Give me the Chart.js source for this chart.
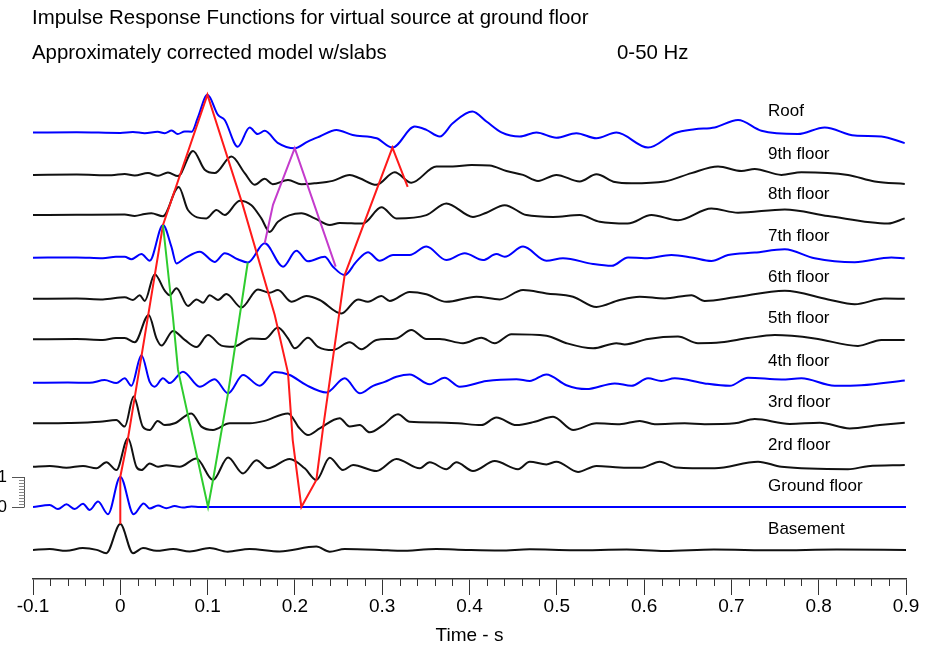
<!DOCTYPE html>
<html>
<head>
<meta charset="utf-8">
<script src="https://cdn.jsdelivr.net/npm/chart.js@4.4.1/dist/chart.umd.min.js"></script>
<style>
  html, body { margin: 0; padding: 0; background: #ffffff; }
  canvas { display: block; }
</style>
</head>
<body>
<canvas id="irf" width="935" height="649"></canvas>
<script>
// ---- text ----
const titleLine1 = 'Impulse Response Functions for virtual source at ground floor';
const titleLine2 = 'Approximately corrected model w/slabs';
const bandText = '0-50 Hz';
const axisTitle = 'Time - s';
const floorNames = ['Roof', '9th floor', '8th floor', '7th floor', '6th floor', '5th floor',
                    '4th floor', '3rd floor', '2rd floor', 'Ground floor', 'Basement'];
const xTickValues = [-0.1, 0, 0.1, 0.2, 0.3, 0.4, 0.5, 0.6, 0.7, 0.8, 0.9];
const scaleBarLabels = ['1', '0'];

// vertical offset of each trace (amplitude units, ground floor = 0)
const traceOffset = [12.48, 11.07, 9.73, 8.31, 6.94, 5.59, 4.14, 2.79, 1.34, 0, -1.43];

// ---- impulse responses: [time s, amplitude] ----
const roofTrace = [[-0.1,0],[-0.05,0.01],[0,-0.01],[0.0145,0.02],[0.028,-0.02],[0.0428,0.03],[0.0509,-0.02],[0.0589,0.07],[0.0657,-0.05],[0.0738,0.04],[0.0818,0.03],[0.0887,0.49],[0.0998,1.26],[0.1119,0.59],[0.1196,0.42],[0.1345,-0.47],[0.1482,0.17],[0.1573,-0.05],[0.1654,0.06],[0.1803,-0.34],[0.1998,-0.52],[0.2147,-0.30],[0.2284,-0.13],[0.2475,0.09],[0.2662,-0.08],[0.2937,-0.19],[0.3117,-0.5],[0.3372,0.2],[0.3506,0.09],[0.3659,-0.13],[0.3808,0.31],[0.4033,0.7],[0.4194,0.37],[0.4366,0.01],[0.4575,-0.13],[0.4766,0],[0.4995,-0.17],[0.5224,-0.02],[0.5454,-0.19],[0.5683,0],[0.6045,-0.5],[0.635,-0.02],[0.658,0.11],[0.6809,0.17],[0.7076,0.42],[0.7344,0.06],[0.776,-0.05],[0.8069,0.17],[0.8413,-0.1],[0.8718,-0.13],[0.8985,-0.35]];

const floor9Trace = [[-0.1,0],[-0.05,0.01],[-0.01,-0.01],[0.005,0.03],[0.0165,-0.02],[0.0317,0.06],[0.0432,-0.03],[0.0546,0.08],[0.0661,-0.04],[0.0833,0.8],[0.0967,0.17],[0.1081,0.06],[0.1273,0.61],[0.1425,0.06],[0.154,-0.33],[0.1654,-0.13],[0.1746,-0.31],[0.1921,-0.17],[0.2074,-0.31],[0.2227,-0.28],[0.2433,-0.2],[0.2628,0],[0.2742,-0.11],[0.2934,-0.33],[0.3143,0.09],[0.3334,-0.26],[0.3621,0.28],[0.3808,0.28],[0.4022,0.33],[0.4231,0.31],[0.4423,0.13],[0.4613,0],[0.4785,-0.2],[0.4995,0],[0.5262,-0.22],[0.5454,0.02],[0.5666,-0.24],[0.5855,-0.28],[0.6236,-0.22],[0.6542,0.06],[0.6847,0.28],[0.7115,0.13],[0.7267,0.2],[0.7573,0],[0.7802,0.09],[0.8336,0],[0.8642,-0.22],[0.8986,-0.3]];

const floor8Trace = [[-0.1,0],[-0.05,0.01],[0.005,0.02],[0.0165,-0.03],[0.028,0.04],[0.0356,0.06],[0.0489,-0.04],[0.0669,0.94],[0.0775,0.17],[0.0986,-0.11],[0.1101,0.17],[0.1196,0],[0.1368,0.48],[0.1502,0.33],[0.1616,-0.11],[0.1711,-0.56],[0.1806,-0.22],[0.2074,0.06],[0.2227,-0.11],[0.2399,-0.33],[0.2513,-0.26],[0.278,-0.28],[0.2991,0.26],[0.3163,-0.11],[0.3506,0],[0.3735,0.39],[0.404,-0.06],[0.4194,0.08],[0.4403,0.33],[0.4652,0],[0.4956,-0.06],[0.5262,0],[0.5491,-0.22],[0.5812,-0.28],[0.6084,0],[0.6388,-0.17],[0.6771,0.22],[0.7076,0.08],[0.7611,0.19],[0.8107,-0.03],[0.8794,-0.28],[0.8985,-0.11]];

const floor7Trace = [[-0.1,0],[-0.05,0.01],[-0.02,-0.02],[-0.005,0.03],[0.005,0.03],[0.0127,-0.05],[0.0242,0.12],[0.0337,-0.1],[0.0489,1.09],[0.0585,0.37],[0.0643,-0.19],[0.0738,-0.02],[0.091,0.2],[0.1081,-0.14],[0.1196,0.15],[0.1345,-0.05],[0.146,-0.16],[0.1654,0.48],[0.1864,-0.3],[0.2017,0.23],[0.215,-0.12],[0.2341,0.03],[0.2436,-0.3],[0.257,-0.58],[0.2704,-0.13],[0.2837,0.18],[0.2971,-0.1],[0.3124,0.09],[0.3315,0.09],[0.3506,0.37],[0.3735,-0.08],[0.3945,0.15],[0.4155,-0.08],[0.4308,0.12],[0.4403,0.03],[0.4613,0.37],[0.4881,-0.1],[0.5071,-0.02],[0.5415,-0.21],[0.5629,-0.27],[0.5816,0.01],[0.6007,-0.02],[0.6313,0.09],[0.6542,0.01],[0.6771,-0.11],[0.6961,0.09],[0.7267,0.17],[0.7611,0.28],[0.7954,-0.02],[0.8413,-0.15],[0.8833,0.01],[0.8985,-0.02]];

const floor6Trace = [[-0.1,0],[-0.05,0.01],[-0.02,-0.02],[0.005,0.05],[0.0145,-0.04],[0.0222,0.12],[0.028,-0.07],[0.0394,0.82],[0.0509,0.27],[0.0566,0.12],[0.0643,0.35],[0.0776,-0.24],[0.0872,-0.02],[0.0947,-0.13],[0.1024,0.12],[0.1119,-0.04],[0.1215,0.16],[0.1387,-0.29],[0.1577,0.31],[0.1711,0.2],[0.1806,0.29],[0.196,-0.1],[0.2132,0.09],[0.2284,-0.04],[0.2533,-0.49],[0.2723,-0.02],[0.2837,-0.1],[0.2991,0.09],[0.3086,-0.07],[0.3315,0.23],[0.3506,0.15],[0.3735,-0.1],[0.4079,0.07],[0.4346,-0.02],[0.4613,0.29],[0.4881,0.18],[0.5186,0.07],[0.5454,-0.27],[0.5721,-0.04],[0.595,0.07],[0.6236,0.01],[0.6542,0.12],[0.6694,-0.07],[0.7038,0.05],[0.7611,0.27],[0.8107,-0.02],[0.8413,-0.18],[0.8756,0.01],[0.8986,0]];

const floor5Trace = [[-0.1,0],[-0.05,0.01],[-0.02,-0.02],[-0.005,0.04],[0.005,0.04],[0.0165,-0.1],[0.0325,0.81],[0.0414,0.03],[0.0471,-0.21],[0.0604,0.28],[0.0738,-0.02],[0.0872,-0.26],[0.1005,0.14],[0.1158,-0.21],[0.1291,-0.25],[0.1502,0.03],[0.1654,0.01],[0.1806,0.39],[0.1921,0.03],[0.1998,-0.3],[0.215,0.05],[0.2265,-0.25],[0.2433,-0.36],[0.2628,-0.1],[0.2762,-0.33],[0.2934,-0.02],[0.3163,0.03],[0.3334,0.31],[0.3506,0.01],[0.3659,0.01],[0.3926,-0.13],[0.4136,0.05],[0.4289,-0.13],[0.448,0.17],[0.4881,0.12],[0.511,-0.13],[0.5415,-0.3],[0.5683,-0.13],[0.5778,-0.17],[0.6045,0.01],[0.6388,0.09],[0.6617,-0.13],[0.6885,-0.1],[0.719,0.04],[0.7496,0.14],[0.7954,0.03],[0.845,-0.22],[0.8718,-0.02],[0.8985,-0.02]];

const floor4Trace = [[-0.1,0],[-0.06,0.01],[-0.0351,0],[-0.0179,0.09],[-0.0045,-0.01],[0.005,0.15],[0.0127,-0.1],[0.0242,0.92],[0.0337,0.03],[0.0394,-0.13],[0.0489,0.15],[0.0566,-0.01],[0.0718,0.37],[0.091,-0.13],[0.1081,0.12],[0.1234,-0.35],[0.1406,0.26],[0.1597,-0.1],[0.1769,0.36],[0.1941,0.26],[0.2132,-0.08],[0.2361,-0.32],[0.2571,0.15],[0.2742,-0.35],[0.2895,-0.1],[0.3029,0.03],[0.3163,0.2],[0.3315,0.28],[0.3544,-0.05],[0.3716,0.17],[0.3888,-0.13],[0.4194,0.06],[0.4537,0.12],[0.469,0.06],[0.4881,0.28],[0.511,-0.08],[0.5339,-0.21],[0.5663,-0.02],[0.5855,-0.1],[0.6045,0.15],[0.6198,0.06],[0.6351,0.15],[0.6694,-0.02],[0.6981,-0.1],[0.719,0.17],[0.7573,0.11],[0.7802,0.15],[0.8183,-0.1],[0.8489,-0.08],[0.8986,0.08]];

const floor3Trace = [[-0.1,0],[-0.06,0.01],[-0.0236,0.05],[-0.0045,0.11],[0.005,-0.11],[0.0153,0.89],[0.0257,-0.11],[0.0337,-0.22],[0.0428,0.08],[0.0509,-0.06],[0.0623,0],[0.0814,0.33],[0.0929,-0.11],[0.1062,-0.22],[0.1253,0],[0.1482,0],[0.1654,0.08],[0.1921,0.33],[0.2055,-0.17],[0.215,-0.39],[0.2284,-0.17],[0.2513,0.17],[0.2628,-0.11],[0.2742,-0.06],[0.2857,-0.3],[0.3009,-0.06],[0.3181,0.3],[0.3315,0.05],[0.3621,0.03],[0.3868,0],[0.4136,-0.06],[0.4308,0.19],[0.4537,-0.06],[0.4747,0.05],[0.4957,0.22],[0.5186,-0.22],[0.5454,0],[0.5721,-0.03],[0.595,0.08],[0.6122,-0.03],[0.6465,0],[0.6694,-0.03],[0.7038,0],[0.7267,0.14],[0.7668,-0.02],[0.8012,0.02],[0.8355,-0.17],[0.8699,-0.06],[0.8986,0.02]];

const floor2Trace = [[-0.1,0],[-0.0809,0.03],[-0.0617,-0.03],[-0.0427,0.03],[-0.0274,-0.05],[-0.0159,0.15],[-0.0045,-0.11],[0.0088,0.95],[0.0184,0],[0.0242,-0.11],[0.0337,0.11],[0.0432,0],[0.0528,0.05],[0.068,0],[0.0872,0.28],[0.1062,-0.44],[0.1234,0.31],[0.1406,-0.22],[0.1559,0.22],[0.1692,-0.05],[0.1941,0.26],[0.2112,-0.05],[0.2246,-0.44],[0.2399,0.3],[0.2551,-0.11],[0.2666,0.06],[0.2934,-0.14],[0.3163,0.26],[0.343,-0.05],[0.3544,0.15],[0.3735,-0.08],[0.385,0.15],[0.404,-0.14],[0.4289,0.19],[0.4556,-0.08],[0.469,0.17],[0.4881,0.08],[0.4996,0.17],[0.5243,-0.17],[0.5454,0.03],[0.5721,-0.02],[0.5969,-0.03],[0.6179,0.17],[0.637,-0.02],[0.6809,-0.05],[0.7305,0.17],[0.7573,0],[0.8336,-0.08],[0.8565,0.02],[0.8986,0.06]];

const groundTrace = [[-0.1,0],[-0.0809,0.07],[-0.0714,-0.07],[-0.0617,0.09],[-0.0522,-0.07],[-0.0427,0.11],[-0.0351,-0.1],[-0.0255,0.18],[-0.0141,-0.24],[0,1.01],[0.0153,-0.24],[0.0268,0.12],[0.0337,-0.05],[0.0432,0.05],[0.0528,-0.04],[0.0623,0.03],[0.0718,-0.02],[0.0814,0.02],[0.091,0],[0.9,0]];

const basementTrace = [[-0.1,0],[-0.081,0.03],[-0.062,-0.03],[-0.043,0.06],[-0.027,0],[-0.016,-0.11],[0,0.86],[0.0145,-0.11],[0.026,0.06],[0.0414,-0.03],[0.0604,0.03],[0.0795,-0.05],[0.1024,0.06],[0.123,-0.06],[0.148,0.03],[0.1826,-0.05],[0.2246,0.11],[0.2399,-0.06],[0.257,0.03],[0.297,0],[0.32,-0.03],[0.362,0.03],[0.396,0],[0.435,-0.02],[0.469,0.02],[0.52,-0.01],[0.58,0.01],[0.6236,-0.04],[0.68,0.01],[0.75,-0.01],[0.82,0.01],[0.9,0]];

// ---- wave-front picks joining peaks/troughs across floors: [time s, absolute level] ----
const redPick = [[0,-0.57],[0,1.01],[0.0088,2.29],[0.0489,9.4],[0.0998,13.74],[0.1402,10.07],[0.1769,6.4],[0.1921,4.47],[0.1975,2.23],[0.2074,0],[0.2246,0.9],[0.2322,2.62],[0.257,7.73],[0.3117,11.98],[0.3292,10.67]];
const greenPick = [[0.0489,9.4],[0.0604,6.3],[0.0661,4.57],[0.1005,0],[0.1062,0.9],[0.1234,3.79],[0.146,8.15]];
const magentaPick = [[0.1654,8.79],[0.1749,10.07],[0.1998,11.96],[0.2467,8.01]];

// ---- drawing ----
const FONT = '"Liberation Sans", Arial, Helvetica, sans-serif';
const BLUE = '#0000ff', BLACK = '#111111';
const traceColor = [BLUE, BLACK, BLACK, BLUE, BLACK, BLACK, BLUE, BLACK, BLACK, BLUE, BLACK];
const traces = [roofTrace, floor9Trace, floor8Trace, floor7Trace, floor6Trace, floor5Trace,
                floor4Trace, floor3Trace, floor2Trace, groundTrace, basementTrace];

const datasets = traces.map((tr, i) => ({
  data: tr.map(([t, v]) => ({ x: t, y: v + traceOffset[i] })),
  borderColor: traceColor[i],
  borderWidth: 2,
  pointRadius: 0,
  fill: false,
  cubicInterpolationMode: 'monotone',
  order: 2
}));

const pickLine = (pts, color, width) => ({
  data: pts.map(([t, y]) => ({ x: t, y })),
  borderColor: color,
  borderWidth: width,
  pointRadius: 0,
  fill: false,
  tension: 0,
  order: 1
});
datasets.push(pickLine(magentaPick, '#c43bcc', 2));
datasets.push(pickLine(greenPick, '#2ecc2e', 2));
datasets.push(pickLine(redPick, '#ff1a1a', 2));

const decorations = {
  id: 'decorations',
  afterDraw(chart) {
    const ctx = chart.ctx;
    const xs = chart.scales.x, ys = chart.scales.y;
    ctx.save();

    // header lines
    ctx.fillStyle = '#000';
    ctx.textAlign = 'left';
    ctx.textBaseline = 'middle';
    ctx.font = '20.4px ' + FONT;
    ctx.fillText(titleLine1, 32, 18);
    ctx.fillText(titleLine2, 32, 53);
    ctx.fillText(bandText, 617, 53);

    // floor names above each trace
    ctx.font = '17px ' + FONT;
    const labelX = xs.getPixelForValue(0.742);
    floorNames.forEach((name, i) => {
      ctx.fillText(name, labelX, ys.getPixelForValue(traceOffset[i]) - 21);
    });

    // minor ticks of the time axis
    ctx.strokeStyle = '#333';
    ctx.lineWidth = 1;
    const yAxis = chart.chartArea.bottom;
    ctx.beginPath();
    for (let i = 0; i <= 50; i++) {
      if (i % 5 === 0) continue;
      const px = Math.round(xs.getPixelForValue(-0.1 + i * 0.02)) + 0.5;
      ctx.moveTo(px, yAxis);
      ctx.lineTo(px, yAxis + 7);
    }
    ctx.stroke();

    // amplitude scale bar (0 to 1) at the ground floor trace
    const y0 = ys.getPixelForValue(0), y1 = ys.getPixelForValue(1);
    const barX = 24.5;
    ctx.strokeStyle = '#555';
    ctx.beginPath();
    ctx.moveTo(12, Math.round(y1) + 0.5); ctx.lineTo(barX, Math.round(y1) + 0.5);
    ctx.moveTo(12, Math.round(y0) + 0.5); ctx.lineTo(barX, Math.round(y0) + 0.5);
    ctx.moveTo(barX, y1); ctx.lineTo(barX, y0);
    ctx.stroke();
    ctx.strokeStyle = '#888';
    ctx.beginPath();
    for (let k = 1; k < 10; k++) {
      const py = Math.round(ys.getPixelForValue(k / 10)) + 0.5;
      ctx.moveTo(19, py); ctx.lineTo(barX, py);
    }
    ctx.stroke();
    ctx.fillStyle = '#000';
    ctx.textAlign = 'right';
    ctx.font = '17px ' + FONT;
    ctx.fillText(scaleBarLabels[0], 7, y1);
    ctx.fillText(scaleBarLabels[1], 7, y0);

    ctx.restore();
  }
};

new Chart(document.getElementById('irf'), {
  type: 'line',
  data: { datasets },
  options: {
    responsive: false,
    animation: false,
    devicePixelRatio: 1,
    layout: { padding: { left: 33, right: 29, top: 79, bottom: 0 } },
    plugins: { legend: { display: false }, tooltip: { enabled: false } },
    scales: {
      x: {
        type: 'linear',
        min: -0.1,
        max: 0.9,
        afterBuildTicks: (s) => { s.ticks = xTickValues.map(v => ({ value: v })); },
        afterFit: (s) => { s.height = 70; },
        grid: { display: true, drawOnChartArea: false, drawTicks: true, tickLength: 16, color: '#333', lineWidth: 1 },
        border: { display: true, color: '#333', width: 1.5 },
        ticks: { font: { family: FONT, size: 19 }, color: '#000', padding: 0, maxRotation: 0, autoSkip: false },
        title: { display: true, text: axisTitle, font: { family: FONT, size: 19 }, color: '#000', padding: { top: 0, bottom: 2 } }
      },
      y: { type: 'linear', display: false, min: -2.4, max: 14.2667 }
    }
  },
  plugins: [decorations]
});
</script>
</body>
</html>
